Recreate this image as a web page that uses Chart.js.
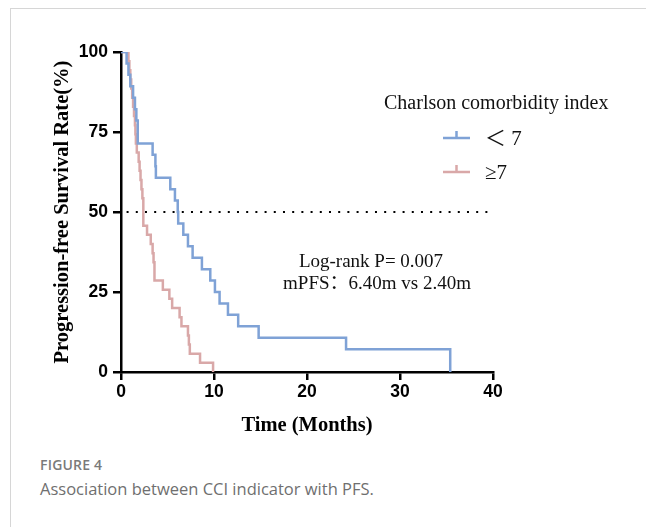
<!DOCTYPE html>
<html>
<head>
<meta charset="utf-8">
<script src="https://cdn.jsdelivr.net/npm/chart.js@4.4.1/dist/chart.umd.min.js"></script>
<style>
  html, body { margin: 0; padding: 0; background: #fff; }
  body { width: 646px; height: 527px; position: relative; overflow: hidden; }
  .frame { position: absolute; left: 10px; top: 8px; right: 0; bottom: 0;
           border-left: 1px solid #d6d6d6; border-top: 1px solid #d6d6d6; }
  .chart-box { position: absolute; left: 0; top: 0; width: 646px; height: 450px; }
  .fig-label { position: absolute; left: 40px; top: 455px; font: 600 14px "Open Sans", sans-serif;
               color: #7a7a7a; letter-spacing: 0.2px; }
  .fig-caption { position: absolute; left: 40px; top: 477px; font: 16.5px "Open Sans", sans-serif;
                 color: #6f6f6f; }
</style>
</head>
<body>
<div class="frame"></div>
<div class="chart-box"><canvas id="kmChart"></canvas></div>
<div class="fig-label">FIGURE 4</div>
<div class="fig-caption">Association between CCI indicator with PFS.</div>

<script>
// Kaplan-Meier step data (months, % progression-free)
const lowTimes = [0, 0.6, 0.8, 1.0, 1.3, 1.5, 1.65, 1.8, 3.4, 3.7, 3.75, 5.3, 5.8, 6.1, 6.15, 6.7, 7.2, 7.7, 8.7, 9.6, 10.1, 10.6, 11.5, 12.6, 14.8, 24.2, 35.4];
const lowSurv  = [100, 96.4, 92.9, 89.3, 85.7, 82.1, 78.6, 71.4, 67.9, 64.3, 60.7, 57.1, 53.6, 50, 46.4, 42.9, 39.3, 35.7, 32.1, 28.6, 25, 21.4, 17.9, 14.3, 10.7, 7.1, 0];

const highTimes = [0, 0.8, 0.9, 1.0, 1.1, 1.2, 1.3, 1.4, 1.5, 1.55, 1.6, 1.7, 1.9, 2.0, 2.1, 2.2, 2.3, 2.4, 2.8, 3.2, 3.4, 3.5, 3.6, 4.5, 5.2, 5.5, 6.3, 6.5, 7.2, 7.3, 7.4, 8.5, 9.9];
const highSurv  = [100, 97.1, 94.3, 91.4, 88.6, 85.7, 82.9, 80, 77.1, 74.3, 71.4, 68.6, 65.7, 62.9, 60, 57.1, 54.3, 45.7, 42.9, 40, 37.1, 34.3, 28.6, 25.7, 22.9, 20, 17.1, 14.3, 11.4, 8.6, 5.7, 2.9, 0];

const medianLine = [[0.6, 50], [39.6, 50]];

const xTicks = [0, 10, 20, 30, 40];
const yTicks = [0, 25, 50, 75, 100];

const seriesLabels = ['\uFF1C 7', '\u2265' + '7'];
const legendTitle = 'Charlson comorbidity index';
const statLines = ['Log-rank P= 0.007', 'mPFS\uFF1A6.40m vs 2.40m'];

const colors = { low: '#7fa2d6', high: '#d9a8a8', axis: '#000' };
const serif = '"Liberation Serif", "Times New Roman", "Noto Sans CJK SC", serif';

const toPoints = (xs, ys) => xs.map((x, i) => ({ x, y: ys[i] }));

// legend + log-rank text drawn on the canvas inside the plot
const overlayPlugin = {
  id: 'overlay',
  afterDraw(chart) {
    const { ctx } = chart;
    ctx.save();
    ctx.fillStyle = '#111';
    ctx.textBaseline = 'middle';

    ctx.font = '20px ' + serif;
    ctx.textAlign = 'left';
    ctx.fillText(legendTitle, 384, 104);

    const rows = [[colors.low, 138, seriesLabels[0]], [colors.high, 172, seriesLabels[1]]];
    rows.forEach(([c, yy, label]) => {
      ctx.strokeStyle = c;
      ctx.lineWidth = 2.5;
      ctx.beginPath();
      ctx.moveTo(443, yy);
      ctx.lineTo(470, yy);
      ctx.moveTo(456.5, yy);
      ctx.lineTo(456.5, yy - 7);
      ctx.stroke();
      ctx.fillStyle = '#111';
      ctx.font = '21px ' + serif;
      ctx.fillText(label, 485, yy + 1);
    });

    ctx.font = '19px ' + serif;
    ctx.textAlign = 'center';
    ctx.fillText(statLines[0], 371, 262);
    ctx.fillText(statLines[1], 377, 284);
    ctx.restore();
  }
};

const ctx = document.getElementById('kmChart').getContext('2d');
new Chart(ctx, {
  type: 'line',
  data: {
    datasets: [
      {
        label: seriesLabels[0],
        data: toPoints(lowTimes, lowSurv),
        borderColor: colors.low,
        borderWidth: 2.5,
        stepped: 'before',
        pointRadius: 0
      },
      {
        label: seriesLabels[1],
        data: toPoints(highTimes, highSurv),
        borderColor: colors.high,
        borderWidth: 2.5,
        stepped: 'before',
        pointRadius: 0
      },
      {
        label: 'median',
        data: medianLine.map(([x, y]) => ({ x, y })),
        borderColor: '#000',
        borderWidth: 2.2,
        borderDash: [2, 7.2],
        pointRadius: 0
      }
    ]
  },
  options: {
    responsive: true,
    maintainAspectRatio: false,
    animation: false,
    devicePixelRatio: 1,
    layout: { padding: { left: 0, top: 52, right: 153, bottom: 0 } },
    plugins: {
      legend: { display: false },
      tooltip: { enabled: false }
    },
    scales: {
      x: {
        type: 'linear',
        min: 0,
        max: 40,
        afterBuildTicks: s => { s.ticks = xTicks.map(v => ({ value: v })); },
        afterFit: s => { s.height = 78; },
        border: { display: true, color: colors.axis, width: 2.5 },
        grid: { drawOnChartArea: false, color: colors.axis, lineWidth: 2.5, tickLength: 8 },
        ticks: {
          color: '#000',
          padding: 2,
          maxRotation: 0,
          font: { family: '"Liberation Sans", Arial, sans-serif', size: 17.5, weight: 'bold' }
        },
        title: {
          display: true,
          text: 'Time (Months)',
          color: '#000',
          padding: { top: 0, bottom: 12 },
          font: { family: serif, size: 20.5, weight: 'bold' }
        }
      },
      y: {
        min: 0,
        max: 100,
        afterBuildTicks: s => { s.ticks = yTicks.map(v => ({ value: v })); },
        afterFit: s => { s.width = 121; },
        border: { display: true, color: colors.axis, width: 2.5 },
        grid: { drawOnChartArea: false, color: colors.axis, lineWidth: 2.5, tickLength: 8 },
        ticks: {
          color: '#000',
          padding: 5,
          font: { family: '"Liberation Sans", Arial, sans-serif', size: 17.5, weight: 'bold' }
        },
        title: {
          display: true,
          text: 'Progression-free Survival Rate(%)',
          color: '#000',
          padding: { top: 50, bottom: 0 },
          font: { family: serif, size: 20.5, weight: 'bold' }
        }
      }
    }
  },
  plugins: [overlayPlugin]
});
</script>
</body>
</html>
